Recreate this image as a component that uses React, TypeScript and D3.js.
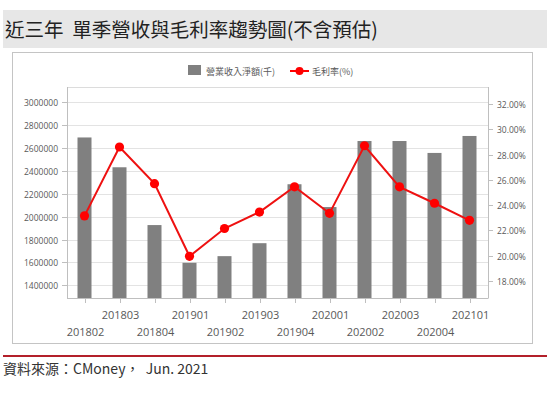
import React from 'react';
import * as d3 from 'd3';

// 近三年單季營收與毛利率 (CMoney, Jun. 2021)
const quarters = [
  '201802', '201803', '201804', '201901', '201902', '201903',
  '201904', '202001', '202002', '202003', '202004', '202101',
];
const revenue = [
  2690000, 2430000, 1926000, 1597000, 1655000, 1768000,
  2282000, 2083000, 2659000, 2659000, 2555000, 2703000,
];
const grossMargin = [
  23.15, 28.6, 25.7, 19.95, 22.15, 23.45,
  25.45, 23.35, 28.7, 25.45, 24.15, 22.8,
];
const revenueTicks = [1400000, 1600000, 1800000, 2000000, 2200000, 2400000, 2600000, 2800000, 3000000];
const marginTicks = [18, 20, 22, 24, 26, 28, 30, 32];

const W = 547;
const H = 396;
const PLOT = { left: 67, right: 488, top: 87, bottom: 298 };
const AXIS_FONT = "'Open Sans', 'DejaVu Sans', sans-serif";
const CJK_FONT = "'Noto Sans CJK TC', 'Noto Sans', sans-serif";

export default function App() {
  const x = d3
    .scalePoint<string>()
    .domain(quarters)
    .range([PLOT.left, PLOT.right - 1])
    .padding(0.5);
  const yL = d3.scaleLinear().domain([1290000, 3130000]).range([PLOT.bottom, PLOT.top]);
  const yR = d3.scaleLinear().domain([16.65, 33.35]).range([PLOT.bottom, PLOT.top]);
  const barW = 14;

  const line = d3
    .line<number>()
    .x((_, i) => x(quarters[i]) as number)
    .y((d) => yR(d));

  return (
    <svg width={W} height={H} style={{ position: 'absolute', left: 0, top: 0 }}>
      <rect width={W} height={H} fill="#fff" />

      {/* title bar */}
      <rect x={3} y={10} width={W - 3} height={38} fill="#e7e7e7" />
      <text x={5} y={37} fontFamily={CJK_FONT} fontSize={19.5} fill="#222">
        近三年&#160;&#160;單季營收與毛利率趨勢圖(不含預估)
      </text>

      {/* chart frame */}
      <rect x={12.5} y={52.5} width={520} height={291} fill="#fff" stroke="#c4c4c4" />

      {/* legend */}
      <rect x={188} y={65} width={13} height={10} fill="#808080" />
      <text x={206} y={75} fontFamily={CJK_FONT} fontSize={9} fill="#595959">
        營業收入淨額(千)
      </text>
      <line x1={290} x2={309} y1={71} y2={71} stroke="#ff0000" strokeWidth={2} />
      <circle cx={299.5} cy={71} r={4} fill="#ff0000" />
      <text x={312} y={75} fontFamily={CJK_FONT} fontSize={9} fill="#595959">
        毛利率(%)
      </text>

      {/* plot area */}
      <rect
        x={PLOT.left + 0.5}
        y={PLOT.top + 0.5}
        width={PLOT.right - PLOT.left}
        height={PLOT.bottom - PLOT.top}
        fill="none"
        stroke="#dcdcdc"
      />
      {revenueTicks.map((t) => (
        <line
          key={`g${t}`}
          x1={PLOT.left}
          x2={PLOT.right}
          y1={Math.round(yL(t)) + 0.5}
          y2={Math.round(yL(t)) + 0.5}
          stroke="#e3e3e3"
        />
      ))}

      {/* bars */}
      {revenue.map((v, i) => (
        <rect
          key={`b${i}`}
          x={(x(quarters[i]) as number) - barW / 2}
          y={yL(v)}
          width={barW}
          height={PLOT.bottom - yL(v)}
          fill="#808080"
        />
      ))}

      {/* axes */}
      <line x1={PLOT.left + 0.5} x2={PLOT.left + 0.5} y1={PLOT.top} y2={PLOT.bottom} stroke="#bfbfbf" />
      <line x1={PLOT.right + 0.5} x2={PLOT.right + 0.5} y1={PLOT.top} y2={PLOT.bottom} stroke="#bfbfbf" />
      <line x1={PLOT.left} x2={PLOT.right} y1={PLOT.bottom + 0.5} y2={PLOT.bottom + 0.5} stroke="#bfbfbf" />

      {revenueTicks.map((t) => (
        <g key={`l${t}`} transform={`translate(0,${Math.round(yL(t)) + 0.5})`}>
          <line x1={PLOT.left - 5} x2={PLOT.left} stroke="#bfbfbf" />
          <text
            x={PLOT.left - 9}
            y={3}
            textAnchor="end"
            fontFamily={AXIS_FONT}
            fontSize={8.5}
            fill="#595959"
          >
            {t}
          </text>
        </g>
      ))}
      {marginTicks.map((t) => (
        <g key={`r${t}`} transform={`translate(0,${Math.round(yR(t)) + 0.5})`}>
          <line x1={PLOT.right} x2={PLOT.right + 5} stroke="#bfbfbf" />
          <text x={PLOT.right + 9} y={3} fontFamily={AXIS_FONT} fontSize={8.5} fill="#595959">
            {t.toFixed(2)}%
          </text>
        </g>
      ))}
      {quarters.map((q, i) => (
        <g key={`x${q}`} transform={`translate(${Math.round(x(q) as number) + 0.5},0)`}>
          <line y1={PLOT.bottom} y2={PLOT.bottom + 5} stroke="#bfbfbf" />
          <text
            y={i % 2 === 1 ? 319 : 336}
            textAnchor="middle"
            fontFamily={AXIS_FONT}
            fontSize={11}
            fill="#595959"
          >
            {q}
          </text>
        </g>
      ))}

      {/* gross margin line */}
      <path d={line(grossMargin) ?? ''} fill="none" stroke="#ee1111" strokeWidth={2} />
      {grossMargin.map((v, i) => (
        <circle key={`p${i}`} cx={x(quarters[i]) as number} cy={yR(v)} r={4.6} fill="#ff0000" />
      ))}

      {/* footer */}
      <line x1={3} x2={W} y1={356} y2={356} stroke="#b3202a" strokeWidth={2} />
      <text x={3} y={374} fontFamily={CJK_FONT} fontSize={14} fill="#333">
        資料來源：CMoney，&#160;&#160;Jun. 2021
      </text>
    </svg>
  );
}
